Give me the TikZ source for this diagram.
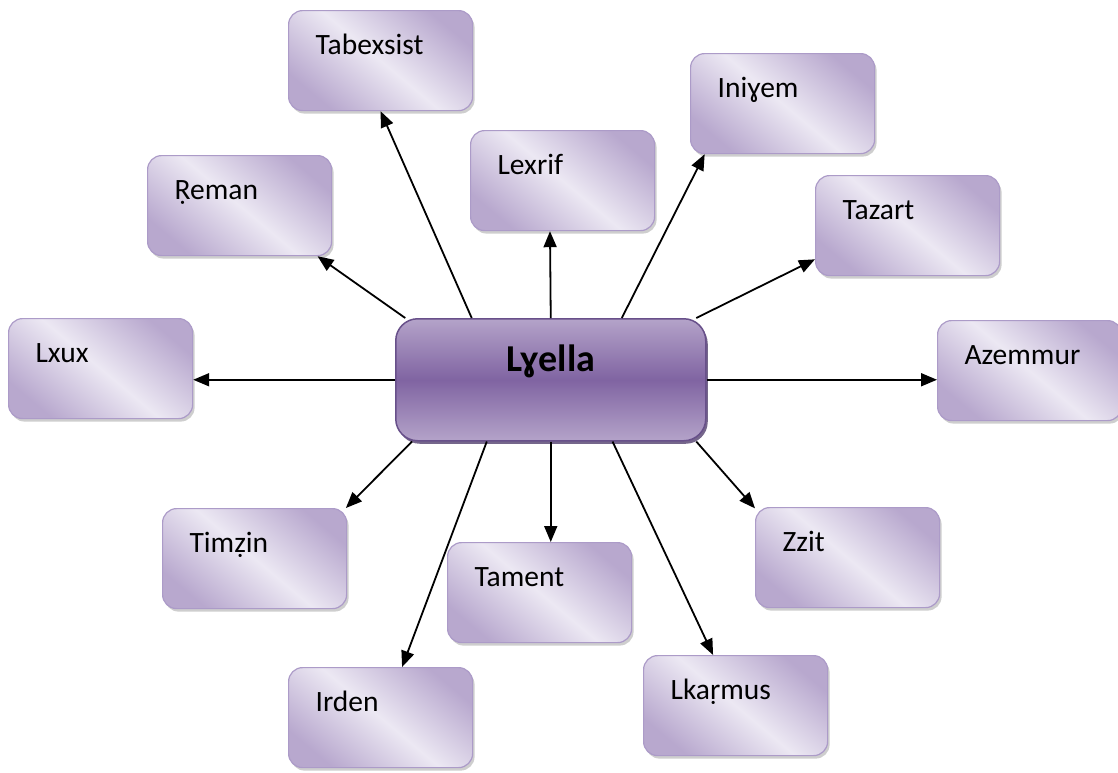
\documentclass[tikz,border=0pt]{standalone}
\usepackage{fontspec}
\setmainfont{Carlito}
\definecolor{LeafDark}{RGB}{184,168,206}
\definecolor{LeafLight}{RGB}{236,232,243}
\definecolor{LeafEdge}{RGB}{172,155,200}
\definecolor{HubDark}{RGB}{128,100,162}
\definecolor{HubLight}{RGB}{180,163,201}
\definecolor{HubEdge}{RGB}{104,80,138}
\usetikzlibrary{positioning,arrows.meta,shadows}

\begin{document}
\begin{tikzpicture}[x=1pt, y=-1pt,
      leaf/.style={draw=LeafEdge, line width=1.2pt, rounded corners=14pt,
                   top color=LeafDark, bottom color=LeafDark, middle color=LeafLight, shading angle=-40,
                   drop shadow={shadow xshift=2pt, shadow yshift=-3pt, fill=gray!55, opacity=0.7},
                   anchor=north west, minimum width=184pt, minimum height=100pt,
                   inner xsep=27pt, inner ysep=0pt, text width=130pt, align=left,
                   text height=44pt, text depth=56pt,
                   font=\fontsize{29.5}{34}\selectfont},
      hub/.style={draw=HubEdge, line width=1.5pt, rounded corners=22pt,
                  top color=HubLight, bottom color=HubLight, middle color=HubDark,
                  drop shadow={shadow xshift=2pt, shadow yshift=-3pt, fill=HubEdge!80!black, opacity=0.8},
                  anchor=north west, minimum width=310pt, minimum height=122pt,
                  inner sep=0pt, text width=310pt, align=center,
                  text height=53pt, text depth=69pt,
                  font=\bfseries\fontsize{38}{44}\selectfont},
      arr/.style={-{Triangle[length=16pt, width=13pt]}, line width=1.8pt}
  ]
    \useasboundingbox (0,0) rectangle (1118,772);
    \node[hub] (hub) at (395,318) {Lɣella};
    \foreach \nm/\x/\y/\txt in {tab/288/10/Tabexsist, ini/690/53/Iniɣem, lex/470/130/Lexrif,
        rem/147/155/Ṛeman, taz/815/175/Tazart, lxu/8/318/Lxux, aze/937/320/Azemmur,
        tim/162/508/Timẓin, zzi/755/507/Zzit, tam/447/542/Tament,
        ird/288/667/Irden, lka/643/655/Lkaṛmus} {
      \node[leaf] (\nm) at (\x,\y) {\txt};
    }
    \foreach \a/\nm/\b in {142.7/tab/-90, 41/ini/-147.6, 90/lex/-104.8, 157.2/rem/-33.2,
        23.5/taz/-160.3, -156.5/tim/29.2, -23.5/zzi/152, -136.8/ird/67.8, -45.5/lka/114.7} {
      \draw[arr] (hub.\a) -- (\nm.\b);
    }
    \draw[arr] (hub.west) -- (hub.west -| lxu.east);
    \draw[arr] (hub.east) -- (hub.east -| aze.west);
    \draw[arr] (hub.south) -- (hub.south |- tam.north);
  \end{tikzpicture}
\end{document}
